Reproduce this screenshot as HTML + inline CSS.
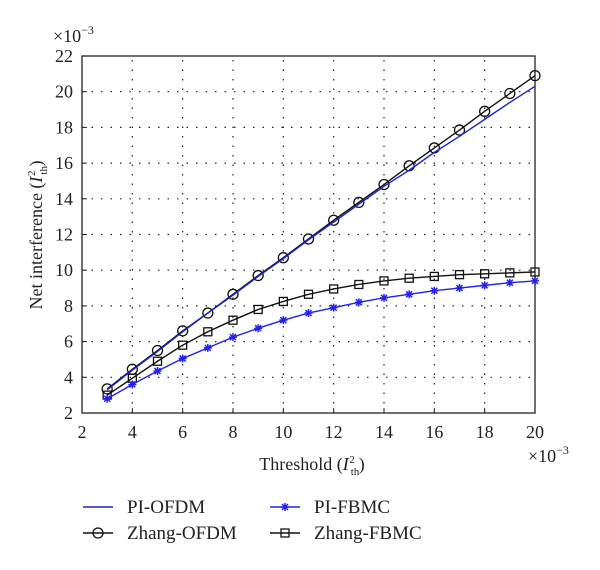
<!DOCTYPE html>
<html><head><meta charset="utf-8"><style>
body{margin:0;background:#fff;}
svg text{font-family:"Liberation Serif",serif;fill:#222;}
</style></head><body>
<svg id="chart" width="600" height="565" xmlns="http://www.w3.org/2000/svg">
<g id="grid"></g>
<g id="axes"></g>
<g id="series"></g>
<text x="53" y="42" font-size="18">×10<tspan font-size="12" dy="-8">−3</tspan></text>
<text x="528" y="462" font-size="18">×10<tspan font-size="12" dy="-8">−3</tspan></text>
<text x="312" y="470" font-size="18" text-anchor="middle">Threshold (<tspan font-style="italic">I</tspan><tspan font-size="11" dx="2" dy="5">th</tspan><tspan font-size="11" dx="-10" dy="-12">2</tspan><tspan dx="4" dy="7">)</tspan></text>
<text transform="translate(42,235) rotate(-90)" font-size="18" text-anchor="middle">Net interference (<tspan font-style="italic">I</tspan><tspan font-size="11" dx="2" dy="5">th</tspan><tspan font-size="11" dx="-10" dy="-12">2</tspan><tspan dx="4" dy="7">)</tspan></text>
<g id="legend"></g>
</svg>
<script>
const xValues=[3,4,5,6,7,8,9,10,11,12,13,14,15,16,17,18,19,20];
const piOfdm=[3.3,4.4,5.45,6.55,7.6,8.6,9.65,10.65,11.7,12.7,13.7,14.7,15.6,16.6,17.5,18.45,19.4,20.3];
const zhangOfdm=[3.35,4.45,5.5,6.6,7.6,8.65,9.7,10.7,11.75,12.8,13.8,14.8,15.85,16.85,17.85,18.9,19.9,20.9];
const piFbmc=[2.8,3.6,4.35,5.05,5.65,6.25,6.75,7.2,7.6,7.9,8.2,8.45,8.65,8.85,9.0,9.15,9.3,9.4];
const zhangFbmc=[3.0,3.95,4.9,5.8,6.55,7.2,7.8,8.25,8.65,8.95,9.2,9.4,9.55,9.65,9.75,9.8,9.85,9.9];
const xTicks=[2,4,6,8,10,12,14,16,18,20];
const yTicks=[2,4,6,8,10,12,14,16,18,20,22];
const X0=82,X1=535,Y0=413,Y1=56;
function sx(v){return X0+(v-2)/18*(X1-X0);}
function sy(v){return Y0-(v-2)/20*(Y0-Y1);}
const NS="http://www.w3.org/2000/svg";
function mk(tag,attrs,parent){const e=document.createElementNS(NS,tag);for(const k in attrs)e.setAttribute(k,attrs[k]);parent.appendChild(e);return e;}
const grid=document.getElementById('grid'),axes=document.getElementById('axes'),series=document.getElementById('series'),legend=document.getElementById('legend');
xTicks.forEach(t=>{
  if(t>2&&t<20){const l=mk('line',{x1:sx(t),x2:sx(t),y1:Y0,y2:Y1,stroke:'#222','stroke-width':1.2,'stroke-dasharray':'1.5 8'},grid);
  
  }
  const tk=mk('line',{x1:sx(t),x2:sx(t),y1:Y0,y2:Y0-5,stroke:'#222'},axes);
  
  
  const tx=mk('text',{x:sx(t),y:Y0+25,'font-size':18,'text-anchor':'middle'},axes);tx.textContent=t;
  
  
});
yTicks.forEach(t=>{
  if(t>2&&t<22){const l=mk('line',{x1:X0,x2:X1,y1:sy(t),y2:sy(t),stroke:'#222','stroke-width':1.2,'stroke-dasharray':'1.5 8'},grid);
  
  }
  const tk=mk('line',{x1:X0,x2:X0+5,y1:sy(t),y2:sy(t),stroke:'#222'},axes);
  
  
  const tx=mk('text',{x:X0-9,y:sy(t)+6,'font-size':18,'text-anchor':'end'},axes);tx.textContent=t;
  
  
});
const frame=mk('rect',{x:X0,y:Y1,width:X1-X0,height:Y0-Y1,fill:'none',stroke:'#222','stroke-width':1.3},axes);


function marker(type,x,y,color,parent){
  let e;
  if(type==='o')e=mk('circle',{cx:x,cy:y,r:5,fill:'none',stroke:color,'stroke-width':1.3},parent);
  else if(type==='s')e=mk('rect',{x:x-4,y:y-4,width:8,height:8,fill:'none',stroke:color,'stroke-width':1.3},parent);
  else if(type==='*')e=mk('path',{d:`M${x-4} ${y}H${x+4}M${x} ${y-4}V${y+4}M${x-3} ${y-3}L${x+3} ${y+3}M${x-3} ${y+3}L${x+3} ${y-3}`,stroke:color,'stroke-width':1.5},parent);
  return e;
}
function drawSeries(vals,color,type,name){
  const g=mk('g',{},series);
  
  
  const p=mk('polyline',{points:xValues.map((x,i)=>sx(x)+','+sy(vals[i])).join(' '),fill:'none',stroke:color,'stroke-width':1.4},g);
  
  
  if(type)xValues.forEach((x,i)=>{const m=marker(type,sx(x),sy(vals[i]),color,g);
    
    });
}
drawSeries(zhangFbmc,'#111','s','zhang-fbmc-series');
drawSeries(piFbmc,'#2222ee','*','pi-fbmc-series');
drawSeries(zhangOfdm,'#111','o','zhang-ofdm-series');
drawSeries(piOfdm,'#2222cc',null,'pi-ofdm-series');
const items=[['PI-OFDM','#2222cc',null,83,507],['PI-FBMC','#2222ee','*',270,507],['Zhang-OFDM','#111','o',83,533],['Zhang-FBMC','#111','s',270,533]];
items.forEach(([lab,c,t,x,y])=>{
  const g=mk('g',{},legend);
  
  
  mk('line',{x1:x,x2:x+30,y1:y,y2:y,stroke:c,'stroke-width':1.4},g);
  if(t)marker(t,x+15,y,c,g);
  const tx=mk('text',{x:x+44,y:y+6,'font-size':19},g);tx.textContent=lab;
});
</script>
</body></html>
